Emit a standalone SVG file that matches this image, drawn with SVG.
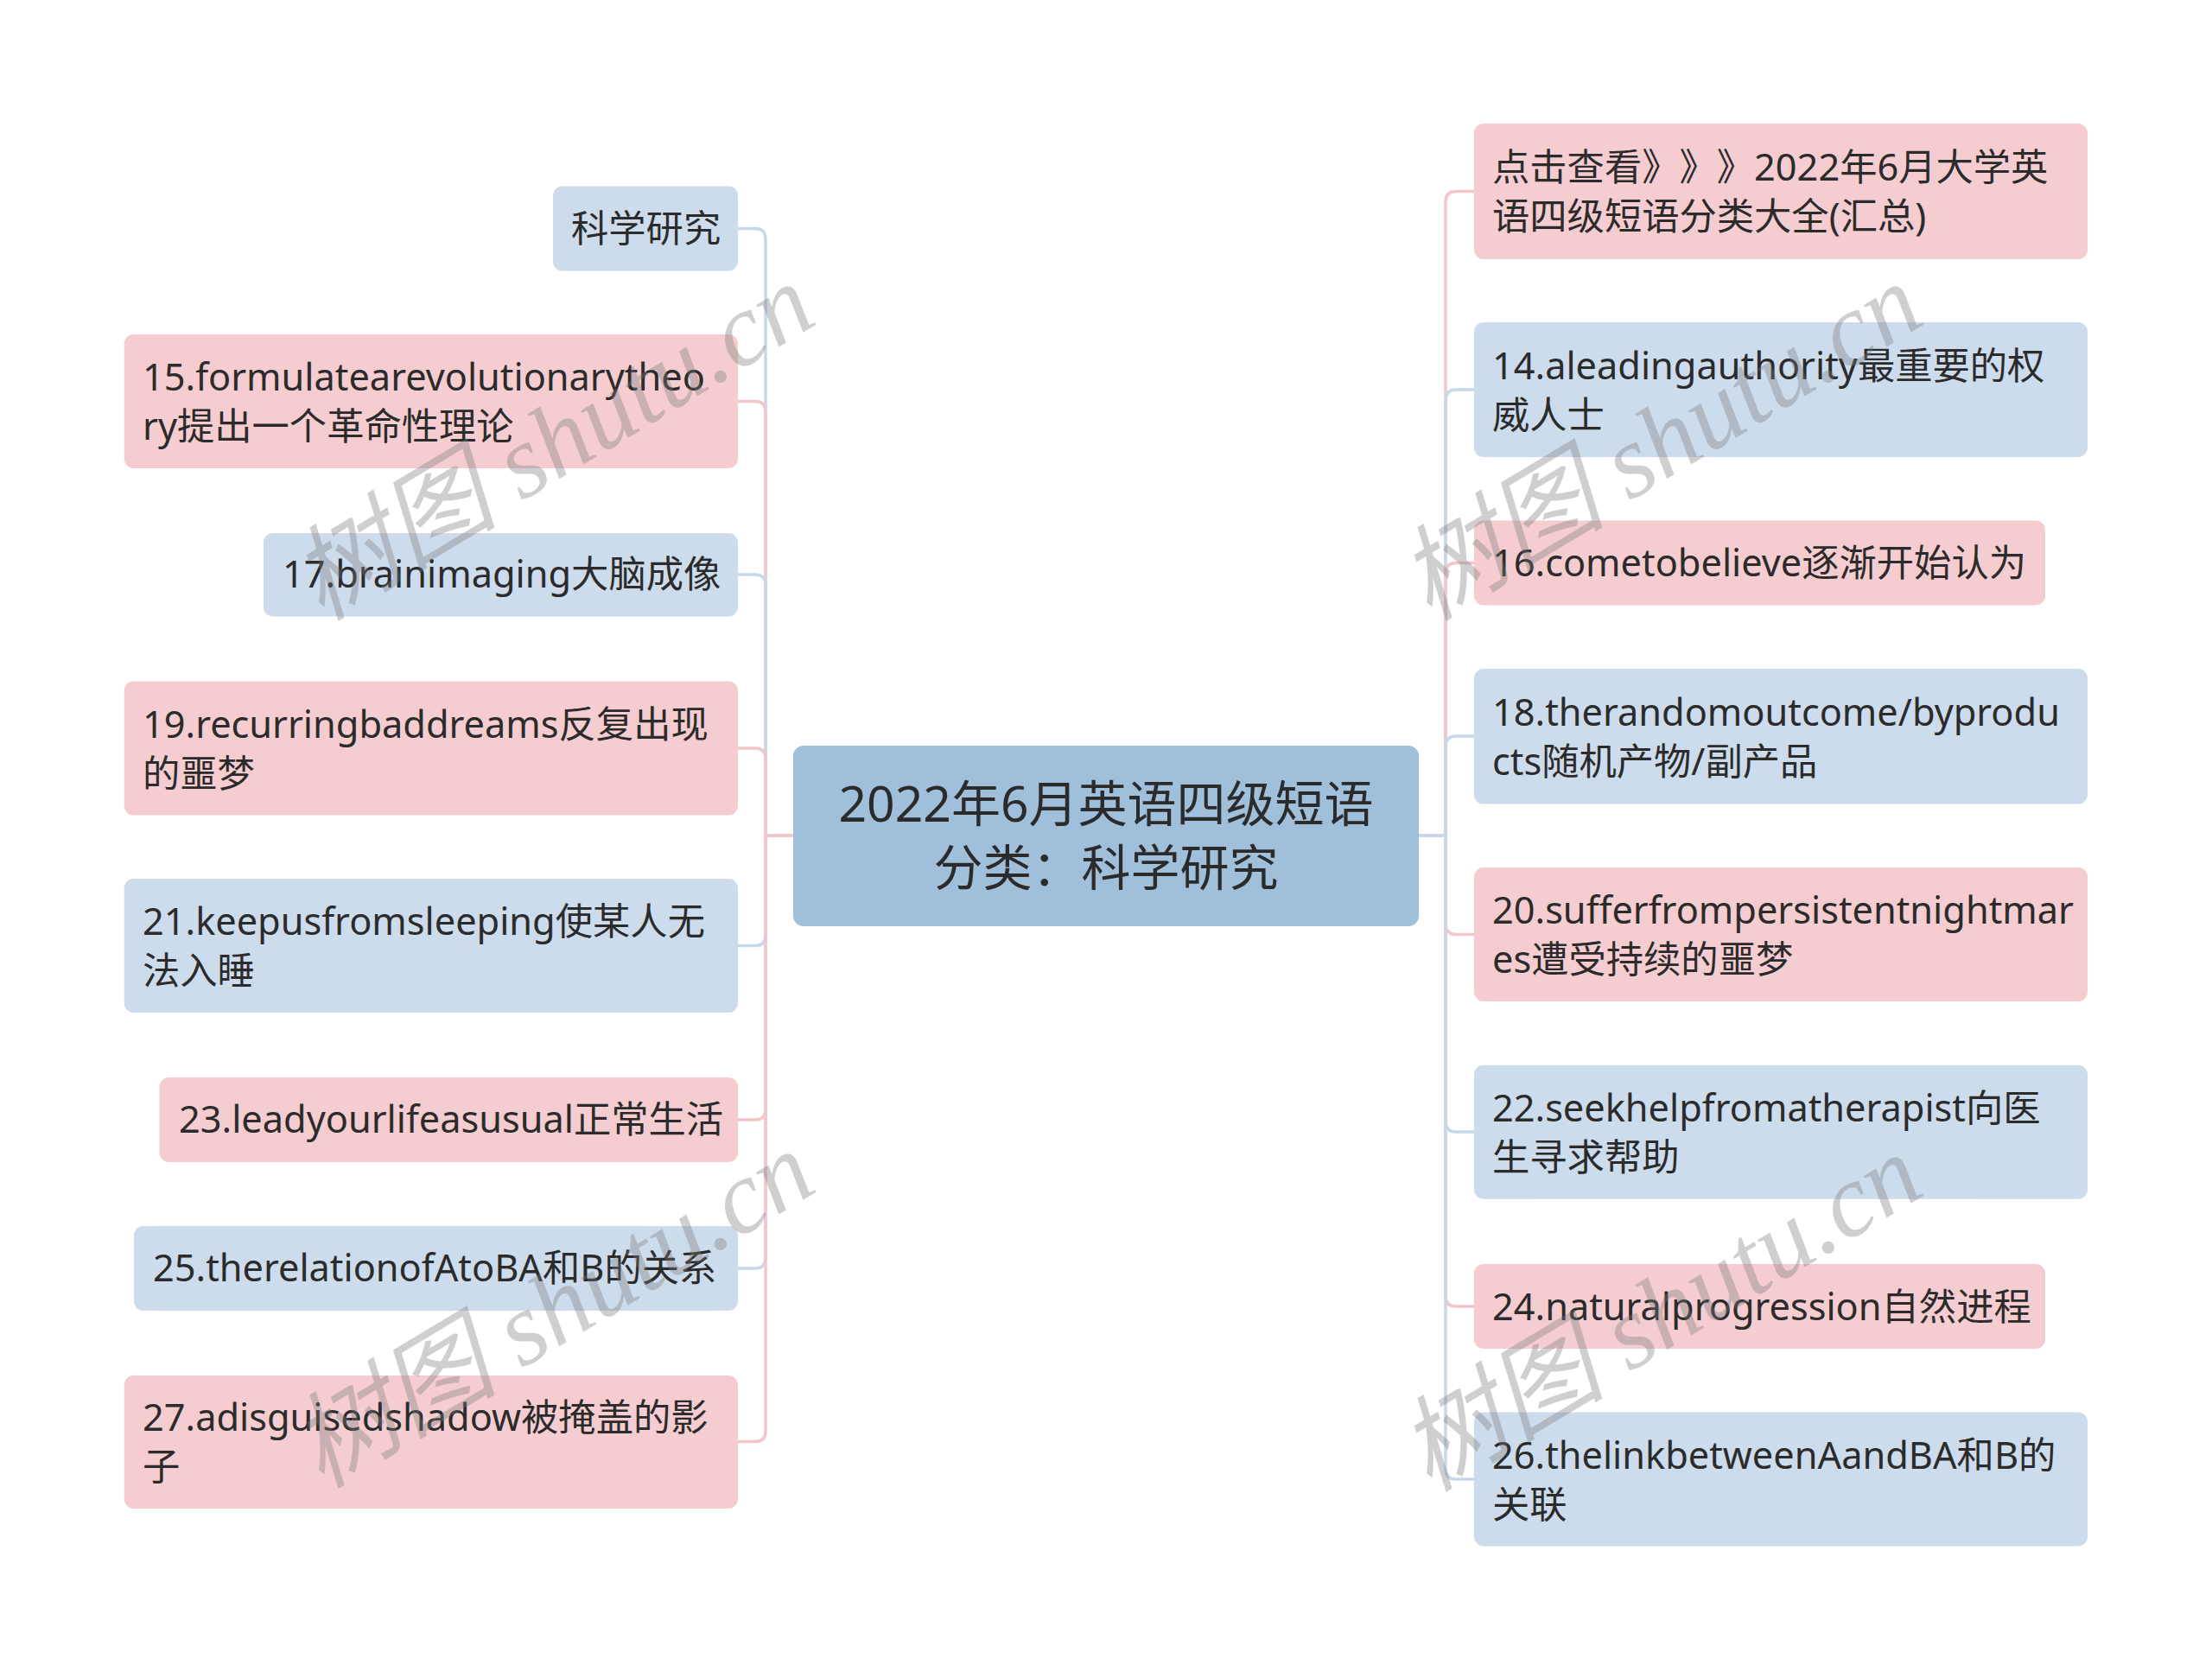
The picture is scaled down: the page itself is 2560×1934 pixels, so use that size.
<svg xmlns="http://www.w3.org/2000/svg" width="2560" height="1934" viewBox="0 0 2560 1934">
<style>
.t{font-family:"Noto Sans","Noto Sans CJK SC",sans-serif;font-size:43.3px;fill:#2b2b2b;text-spacing-trim:space-all}
.c{font-family:"Noto Sans","Noto Sans CJK SC",sans-serif;font-size:57px;fill:#2b2b2b;text-anchor:middle;text-spacing-trim:space-all}
.pk{fill:#f5cdd0}
.bl{fill:#cddcec}
.lp{fill:none;stroke:#f3c6c9;stroke-width:3.5}
.lb{fill:none;stroke:#c6d8ea;stroke-width:3.5}
.wm{font-family:"Liberation Serif","Noto Sans CJK SC",serif;font-style:italic;font-size:120px;fill:#7a7a7a;fill-opacity:0.36;text-anchor:middle}
</style>
<rect width="2560" height="1934" fill="#ffffff"/>
<g id="connectors">
<path class="lb" d="M918 967 H886 V276.5 Q886 264.5 874 264.5 H854"/>
<path class="lp" d="M918 967 H886 V476.5 Q886 464.5 874 464.5 H854"/>
<path class="lb" d="M918 967 H886 V677 Q886 665 874 665 H854"/>
<path class="lp" d="M918 967 H886 V878 Q886 866 874 866 H854"/>
<path class="lb" d="M918 967 H886 V1082.5 Q886 1094.5 874 1094.5 H854"/>
<path class="lp" d="M918 967 H886 V1284 Q886 1296 874 1296 H854"/>
<path class="lb" d="M918 967 H886 V1456 Q886 1468 874 1468 H854"/>
<path class="lp" d="M918 967 H886 V1656.5 Q886 1668.5 874 1668.5 H854"/>
<path class="lp" d="M1642 967 H1673 V233.5 Q1673 221.5 1685 221.5 H1706"/>
<path class="lb" d="M1642 967 H1673 V463 Q1673 451 1685 451 H1706"/>
<path class="lp" d="M1642 967 H1673 V663.5 Q1673 651.5 1685 651.5 H1706"/>
<path class="lb" d="M1642 967 H1673 V864 Q1673 852 1685 852 H1706"/>
<path class="lp" d="M1642 967 H1673 V1069.5 Q1673 1081.5 1685 1081.5 H1706"/>
<path class="lb" d="M1642 967 H1673 V1298 Q1673 1310 1685 1310 H1706"/>
<path class="lp" d="M1642 967 H1673 V1500 Q1673 1512 1685 1512 H1706"/>
<path class="lb" d="M1642 967 H1673 V1700 Q1673 1712 1685 1712 H1706"/>
</g>
<g id="center">
<rect x="918" y="863" width="724" height="209" rx="12" fill="#a0bfdb"/>
<text class="c" x="1280" y="951">2022年6月英语四级短语</text>
<text class="c" x="1280" y="1025">分类：科学研究</text>
</g>
<g id="l1"><rect class="bl" x="640" y="215.5" width="214" height="98" rx="11"/><text class="t" x="661" y="280">科学研究</text></g>
<g id="l2"><rect class="pk" x="143.7" y="387" width="710.3" height="155" rx="11"/><text class="t" x="165" y="452">15.formulatearevolutionarytheo</text><text class="t" x="165" y="509">ry提出一个革命性理论</text></g>
<g id="l3"><rect class="bl" x="305" y="617" width="549" height="96.5" rx="11"/><text class="t" x="327" y="680">17.brainimaging大脑成像</text></g>
<g id="l4"><rect class="pk" x="143.7" y="788.6" width="710.3" height="155" rx="11"/><text class="t" x="165" y="853.5">19.recurringbaddreams反复出现</text><text class="t" x="165" y="910.5">的噩梦</text></g>
<g id="l5"><rect class="bl" x="143.7" y="1017" width="710.3" height="155" rx="11"/><text class="t" x="165" y="1082">21.keepusfromsleeping使某人无</text><text class="t" x="165" y="1139">法入睡</text></g>
<g id="l6"><rect class="pk" x="184.5" y="1247" width="669.5" height="98" rx="11"/><text class="t" x="207" y="1311">23.leadyourlifeasusual正常生活</text></g>
<g id="l7"><rect class="bl" x="155" y="1419" width="699" height="98" rx="11"/><text class="t" x="177" y="1483">25.therelationofAtoBA和B的关系</text></g>
<g id="l8"><rect class="pk" x="143.7" y="1592" width="710.3" height="154" rx="11"/><text class="t" x="165" y="1656">27.adisguisedshadow被掩盖的影</text><text class="t" x="165" y="1713">子</text></g>
<g id="r1"><rect class="pk" x="1706" y="143" width="710" height="157" rx="11"/><text class="t" x="1727" y="209">点击查看<tspan>》</tspan><tspan>》</tspan><tspan>》</tspan>2022年6月大学英</text><text class="t" x="1727" y="266">语四级短语分类大全(汇总)</text></g>
<g id="r2"><rect class="bl" x="1706" y="373" width="710" height="156" rx="11"/><text class="t" x="1727" y="438.5">14.aleadingauthority最重要的权</text><text class="t" x="1727" y="495.5">威人士</text></g>
<g id="r3"><rect class="pk" x="1706" y="602.5" width="661" height="98" rx="11"/><text class="t" x="1727" y="667">16.cometobelieve逐渐开始认为</text></g>
<g id="r4"><rect class="bl" x="1706" y="774" width="710" height="156.6" rx="11"/><text class="t" x="1727" y="839.5">18.therandomoutcome/byprodu</text><text class="t" x="1727" y="896.5">cts随机产物/副产品</text></g>
<g id="r5"><rect class="pk" x="1706" y="1004" width="710" height="155" rx="11"/><text class="t" x="1727" y="1069">20.sufferfrompersistentnightmar</text><text class="t" x="1727" y="1126">es遭受持续的噩梦</text></g>
<g id="r6"><rect class="bl" x="1706" y="1232.7" width="710" height="155" rx="11"/><text class="t" x="1727" y="1297.5">22.seekhelpfromatherapist向医</text><text class="t" x="1727" y="1354.5">生寻求帮助</text></g>
<g id="r7"><rect class="pk" x="1706" y="1463" width="661" height="98" rx="11"/><text class="t" x="1727" y="1527.5">24.naturalprogression自然进程</text></g>
<g id="r8"><rect class="bl" x="1706" y="1634.5" width="710" height="155" rx="11"/><text class="t" x="1727" y="1699.5">26.thelinkbetweenAandBA和B的</text><text class="t" x="1727" y="1756.5">关联</text></g>
<g id="watermarks">
<text class="wm" transform="translate(640,512) rotate(-31)" x="0" y="40">树图 shutu.cn</text>
<text class="wm" transform="translate(1922,512) rotate(-31)" x="0" y="40">树图 shutu.cn</text>
<text class="wm" transform="translate(640,1516) rotate(-31)" x="0" y="40">树图 shutu.cn</text>
<text class="wm" transform="translate(1922,1520) rotate(-31)" x="0" y="40">树图 shutu.cn</text>
</g>
</svg>
